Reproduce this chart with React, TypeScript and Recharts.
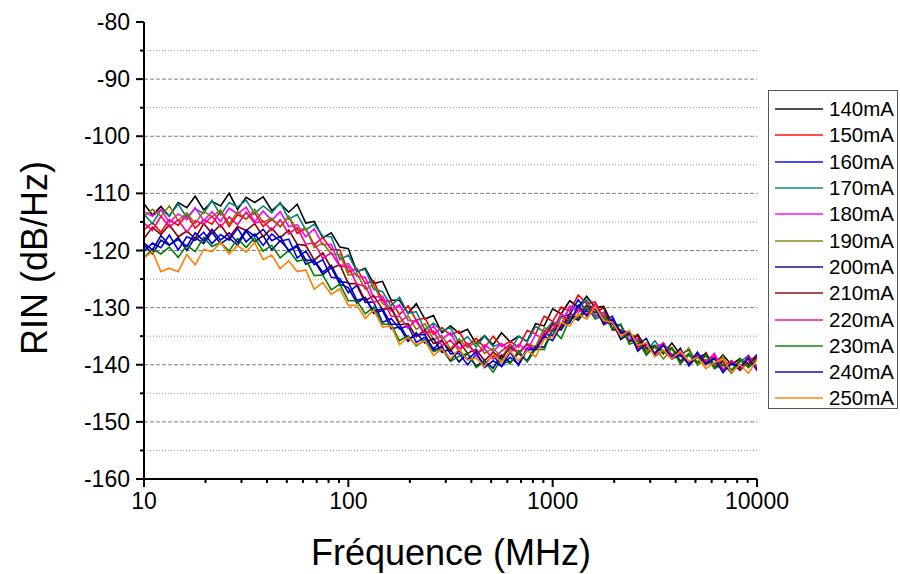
import { LineChart, Line, XAxis, YAxis, ReferenceLine, Legend } from "recharts";

// frequency grid, MHz (1/24 decade)
const freq = [
  10, 11, 12.1, 13.3, 14.7, 16.2, 17.8, 19.6, 21.5, 23.7,
  26.1, 28.7, 31.6, 34.8, 38.3, 42.2, 46.4, 51.1, 56.2, 61.9,
  68.1, 75, 82.5, 90.9, 100, 110, 121, 133, 147, 162,
  178, 196, 215, 237, 261, 287, 316, 348, 383, 422,
  464, 511, 562, 619, 681, 750, 825, 909, 1000, 1101,
  1212, 1334, 1468, 1616, 1778, 1957, 2154, 2371, 2610, 2873,
  3162, 3481, 3831, 4217, 4642, 5109, 5623, 6190, 6813, 7499,
  8254, 9085, 10000,
];

const rin140 = [
  -111.8, -113.8, -112.3, -114.0, -111.6, -112.5, -110.5, -112.9, -111.4, -112.2,
  -110.0, -112.8, -110.7, -111.6, -110.6, -113.0, -111.8, -113.3, -111.9, -115.2,
  -114.9, -117.8, -116.9, -119.4, -119.7, -123.7, -123.1, -125.8, -125.4, -128.7,
  -128.7, -131.0, -129.3, -132.0, -131.4, -134.4, -133.2, -134.5, -133.8, -136.3,
  -134.9, -136.5, -134.4, -136.0, -135.0, -135.9, -132.8, -133.2, -130.2, -131.1,
  -128.8, -129.9, -128.0, -130.0, -129.8, -132.9, -133.1, -135.8, -134.7, -137.2,
  -136.6, -138.1, -136.2, -138.2, -137.4, -139.7, -138.4, -139.9, -138.3, -140.0,
  -138.9, -140.4, -138.9,
];
const rin150 = [
  -116.4, -115.1, -116.8, -114.6, -115.6, -113.7, -116.1, -114.6, -115.4, -113.1,
  -115.8, -113.7, -114.5, -113.4, -115.8, -114.5, -115.8, -114.1, -117.0, -116.2,
  -119.0, -117.7, -119.8, -119.9, -123.8, -123.1, -125.8, -125.3, -128.8, -128.9,
  -131.2, -129.7, -132.2, -131.8, -134.7, -133.5, -134.8, -134.1, -136.7, -135.4,
  -137.0, -135.0, -136.8, -135.9, -136.9, -134.0, -134.6, -131.5, -132.4, -129.9,
  -130.6, -127.8, -129.3, -129.0, -132.0, -132.2, -135.1, -134.2, -136.9, -136.5,
  -138.2, -136.2, -138.3, -137.5, -139.7, -138.5, -140.0, -138.5, -140.2, -139.3,
  -141.0, -139.4, -138.4,
];
const rin160 = [
  -120.1, -118.7, -119.5, -117.3, -119.9, -117.6, -118.2, -116.8, -118.8, -117.2,
  -118.2, -116.1, -118.5, -117.1, -119.1, -117.1, -118.4, -118.0, -121.3, -120.1,
  -122.5, -121.6, -124.7, -124.9, -127.4, -126.1, -129.1, -129.0, -132.6, -131.9,
  -133.7, -133.2, -136.1, -135.2, -137.2, -135.7, -138.1, -138.0, -140.0, -138.2,
  -140.0, -138.3, -140.3, -138.7, -139.9, -137.0, -137.1, -134.6, -134.9, -131.6,
  -131.2, -128.6, -130.7, -130.1, -132.5, -131.5, -134.5, -134.5, -137.3, -136.4,
  -138.1, -136.6, -138.5, -137.7, -139.7, -138.7, -138.1, -140.5, -139.4, -141.4,
  -139.2, -140.1, -138.2,
];
const rin170 = [
  -113.6, -115.3, -112.9, -113.9, -111.9, -114.2, -112.7, -113.5, -111.2, -113.8,
  -111.6, -112.4, -111.2, -113.5, -112.2, -113.4, -111.6, -114.5, -113.7, -116.4,
  -115.4, -117.5, -117.6, -121.6, -120.8, -123.6, -123.3, -126.8, -127.2, -129.7,
  -128.2, -131.0, -130.7, -133.9, -132.7, -134.1, -133.5, -136.2, -135.1, -136.9,
  -135.0, -136.8, -136.3, -137.6, -135.0, -136.0, -133.3, -134.2, -132.5, -133.0,
  -129.8, -130.2, -128.6, -131.4, -130.8, -133.7, -133.0, -135.9, -135.7, -137.6,
  -135.8, -137.8, -137.1, -139.3, -138.0, -139.6, -138.1, -139.9, -139.0, -140.9,
  -139.5, -138.4, -140.4,
];
const rin180 = [
  -113.2, -114.0, -112.8, -115.1, -113.6, -114.6, -112.5, -114.8, -113.2, -114.9,
  -112.6, -113.6, -112.4, -115.0, -113.1, -114.7, -113.2, -115.8, -115.5, -117.6,
  -116.2, -119.0, -118.9, -122.7, -122.3, -124.5, -124.7, -128.2, -128.0, -130.6,
  -129.5, -132.2, -132.4, -134.8, -133.2, -135.5, -134.4, -137.1, -136.3, -138.4,
  -136.5, -137.6, -136.3, -137.9, -136.4, -137.5, -134.7, -135.5, -133.1, -133.1,
  -129.7, -130.8, -129.6, -131.7, -131.0, -133.5, -133.0, -135.6, -135.4, -137.8,
  -136.9, -136.3, -138.8, -137.8, -139.9, -138.1, -139.5, -138.0, -140.8, -139.7,
  -140.7, -138.4, -141.1,
];
const rin190 = [
  -114.0, -112.8, -114.0, -112.2, -114.8, -113.4, -115.3, -113.1, -114.1, -112.9,
  -115.3, -113.2, -114.5, -112.8, -115.1, -114.3, -115.9, -114.0, -116.5, -116.1,
  -119.5, -118.7, -120.6, -120.7, -124.3, -124.0, -126.8, -126.0, -129.3, -130.0,
  -132.6, -131.4, -133.8, -132.8, -135.6, -134.9, -137.2, -135.5, -137.0, -136.0,
  -138.0, -137.1, -138.7, -136.5, -137.9, -136.3, -136.8, -133.5, -134.0, -131.7,
  -132.5, -130.2, -131.3, -129.6, -132.0, -132.2, -135.2, -134.9, -134.9, -137.7,
  -136.9, -139.0, -137.2, -138.6, -137.1, -140.1, -139.1, -140.4, -138.5, -141.5,
  -139.4, -140.0, -138.7,
];
const rin200 = [
  -119.0, -120.6, -118.2, -119.1, -117.7, -120.0, -117.7, -118.8, -116.8, -118.8,
  -117.8, -119.1, -116.6, -118.5, -117.4, -119.9, -118.3, -119.9, -119.4, -122.4,
  -121.8, -124.2, -123.0, -125.9, -126.5, -129.2, -128.2, -131.0, -130.5, -133.7,
  -133.4, -135.9, -134.4, -136.2, -135.4, -137.8, -137.3, -139.5, -138.0, -140.2,
  -139.3, -140.6, -138.3, -139.6, -138.0, -139.3, -136.8, -136.9, -133.8, -133.9,
  -131.5, -132.2, -130.3, -129.5, -132.5, -132.5, -135.6, -134.5, -136.5, -135.4,
  -138.5, -137.5, -138.9, -137.1, -140.2, -138.5, -139.6, -138.7, -141.1, -139.8,
  -140.8, -138.5, -140.8,
];
const rin210 = [
  -117.9, -115.9, -117.2, -115.5, -117.6, -116.6, -117.9, -115.3, -117.0, -115.5,
  -117.7, -115.8, -116.5, -115.3, -117.6, -116.1, -117.8, -116.4, -118.9, -119.1,
  -121.7, -120.4, -123.1, -122.5, -125.8, -125.8, -128.8, -127.9, -130.3, -130.1,
  -133.0, -132.8, -135.1, -133.9, -136.3, -135.8, -137.6, -135.9, -138.0, -137.3,
  -139.3, -137.8, -139.0, -136.9, -138.0, -136.4, -137.4, -135.0, -132.8, -133.6,
  -131.0, -131.9, -129.5, -130.9, -130.0, -133.9, -133.9, -136.0, -134.8, -138.3,
  -136.7, -137.8, -137.0, -139.5, -138.3, -139.7, -137.9, -140.6, -139.3, -141.3,
  -139.1, -139.9, -138.6,
];
const rin220 = [
  -115.2, -116.5, -114.0, -115.9, -114.6, -116.8, -114.8, -115.4, -114.0, -115.9,
  -114.1, -115.5, -113.3, -115.2, -114.8, -116.5, -114.6, -117.1, -116.0, -118.9,
  -118.7, -121.4, -120.4, -122.8, -122.8, -125.9, -126.2, -129.1, -128.5, -131.5,
  -131.5, -133.6, -132.1, -134.6, -134.1, -136.7, -135.7, -137.5, -136.2, -138.1,
  -137.2, -139.0, -137.6, -136.4, -138.1, -136.3, -137.4, -134.2, -134.0, -131.0,
  -132.4, -130.3, -131.1, -129.3, -133.0, -132.2, -134.3, -134.2, -137.3, -136.5,
  -138.0, -136.2, -139.0, -137.8, -139.9, -138.1, -139.4, -138.5, -141.2, -139.3,
  -140.6, -138.6, -140.6,
];
const rin230 = [
  -121.3, -119.7, -120.6, -119.4, -121.2, -119.1, -120.2, -117.7, -119.3, -118.6,
  -120.1, -117.9, -119.5, -117.8, -120.1, -119.1, -121.3, -120.0, -121.9, -121.5,
  -124.4, -124.3, -126.9, -125.9, -128.8, -128.8, -131.1, -129.9, -132.9, -132.9,
  -135.8, -134.9, -136.7, -135.6, -137.7, -137.2, -139.4, -138.5, -138.0, -140.5,
  -139.4, -141.3, -139.0, -139.8, -137.5, -139.5, -137.3, -137.3, -133.9, -135.4,
  -131.9, -131.7, -129.8, -132.0, -131.4, -133.7, -132.9, -136.4, -135.8, -138.3,
  -136.6, -137.9, -137.1, -139.9, -138.1, -139.8, -138.3, -140.7, -139.9, -141.4,
  -138.9, -140.5, -139.1,
];
const rin240 = [
  -118.7, -119.9, -117.4, -119.0, -118.1, -119.3, -116.9, -118.3, -116.3, -118.2,
  -116.9, -118.6, -116.4, -117.5, -116.3, -118.3, -117.5, -120.2, -119.0, -121.7,
  -121.7, -123.8, -122.6, -125.5, -125.6, -128.7, -128.3, -130.7, -130.2, -132.9,
  -132.9, -135.5, -134.8, -134.7, -137.4, -136.8, -139.2, -137.5, -139.1, -137.7,
  -140.5, -139.3, -140.3, -137.8, -140.1, -137.4, -137.3, -135.0, -135.8, -133.0,
  -132.7, -129.6, -131.5, -130.2, -132.9, -132.0, -134.3, -134.2, -137.6, -136.2,
  -138.0, -136.5, -139.0, -138.3, -139.9, -137.8, -139.9, -138.9, -141.4, -139.7,
  -140.4, -138.9, -140.9,
];
const rin250 = [
  -121.3, -120.2, -123.7, -123.1, -123.7, -120.7, -122.5, -119.8, -120.2, -118.6,
  -120.6, -119.1, -120.3, -118.6, -121.6, -120.8, -123.2, -121.8, -123.7, -123.4,
  -126.8, -125.6, -127.7, -126.7, -129.6, -129.6, -131.9, -130.4, -133.4, -133.2,
  -136.5, -135.2, -136.5, -135.8, -138.4, -137.2, -139.0, -137.2, -139.2, -138.8,
  -140.3, -138.1, -139.6, -137.6, -139.3, -137.5, -138.6, -135.5, -135.2, -132.6,
  -133.2, -131.1, -132.0, -129.8, -132.3, -132.5, -135.0, -134.0, -136.6, -136.2,
  -138.6, -137.4, -139.0, -137.6, -139.4, -138.7, -140.7, -139.6, -139.0, -141.3,
  -140.0, -141.5, -139.1,
];

const seriesNames = [
  "140mA", "150mA", "160mA", "170mA", "180mA", "190mA",
  "200mA", "210mA", "220mA", "230mA", "240mA", "250mA",
];
const seriesColors = [
  "#000000", "#ff0000", "#0000ff", "#008080", "#ff00ff", "#808000",
  "#000080", "#800000", "#ff0080", "#008000", "#0000c0", "#ff8000",
];
const seriesValues = [
  rin140, rin150, rin160, rin170, rin180, rin190,
  rin200, rin210, rin220, rin230, rin240, rin250,
];

const xTicks = [
  10, 20, 30, 40, 50, 60, 70, 80, 90,
  100, 200, 300, 400, 500, 600, 700, 800, 900,
  1000, 2000, 3000, 4000, 5000, 6000, 7000, 8000, 9000, 10000,
];
const xMajor = [10, 100, 1000, 10000];
const yTicks = [
  -160, -155, -150, -145, -140, -135, -130, -125, -120,
  -115, -110, -105, -100, -95, -90, -85, -80,
];
const yMajor = [-160, -150, -140, -130, -120, -110, -100, -90, -80];
const gridMajor = [-150, -140, -130, -120, -110, -100, -90];
const gridMinor = [-155, -145, -135, -125, -115, -105, -95, -85];

const font = "'Liberation Sans', Arial, sans-serif";

const rows = freq.map((f, i) => {
  const row: any = { f };
  seriesNames.forEach((name, s) => {
    row[name] = seriesValues[s][i];
  });
  return row;
});

function XTick(props: any) {
  const { x, y, payload } = props;
  const major = xMajor.includes(payload.value);
  const axisY = y - 12;
  return (
    <g>
      <line x1={x} x2={x} y1={axisY} y2={axisY + (major ? 8 : 4)} stroke="#000" strokeWidth={2} />
      {major && (
        <text x={x} y={axisY + 22} textAnchor="middle" dominantBaseline="central" fontSize={23} fontFamily={font} fill="#000">
          {payload.value}
        </text>
      )}
    </g>
  );
}

function YTick(props: any) {
  const { x, y, payload } = props;
  const major = yMajor.includes(payload.value);
  const axisX = x + 12;
  return (
    <g>
      <line x1={axisX - (major ? 8 : 4)} x2={axisX} y1={y} y2={y} stroke="#000" strokeWidth={2} />
      {major && (
        <text x={axisX - 14} y={y} textAnchor="end" dominantBaseline="central" fontSize={23} fontFamily={font} fill="#000">
          {payload.value}
        </text>
      )}
    </g>
  );
}

function LegendBox(props: any) {
  const items = props.payload || [];
  return (
    <div
      style={{
        width: 130,
        height: 319,
        border: "1px solid #555",
        boxSizing: "border-box",
        paddingTop: 5,
        background: "#fff",
      }}
    >
      {items.map((item: any) => (
        <div key={item.value} style={{ display: "flex", alignItems: "center", height: 26.3 }}>
          <div style={{ width: 48, height: 2, background: item.color, opacity: 0.7, marginLeft: 6 }} />
          <span style={{ marginLeft: 6, fontSize: 20.5, fontFamily: font, color: "#000", lineHeight: "22px" }}>
            {item.value}
          </span>
        </div>
      ))}
    </div>
  );
}

export default function App() {
  return (
    <div style={{ position: "absolute", left: 0, top: 0, width: 900, height: 574, background: "#fff" }}>
      <LineChart width={900} height={574} data={rows} margin={{ top: 22, right: 13, bottom: 0, left: 0 }}>
        <XAxis
          dataKey="f"
          type="number"
          scale="log"
          domain={[10, 10000]}
          ticks={xTicks}
          interval={0}
          allowDataOverflow
          height={95}
          tickSize={8}
          tickMargin={4}
          tickLine={false}
          tick={<XTick />}
          axisLine={{ stroke: "#000", strokeWidth: 2 }}
          label={{
            content: () => (
              <text x={451} y={552} textAnchor="middle" dominantBaseline="central" fontSize={36} fontFamily={font} fill="#000">
                Fréquence (MHz)
              </text>
            ),
          }}
        />
        <YAxis
          type="number"
          domain={[-160, -80]}
          ticks={yTicks}
          interval={0}
          allowDataOverflow
          width={144}
          tickSize={8}
          tickMargin={4}
          tickLine={false}
          tick={<YTick />}
          axisLine={{ stroke: "#000", strokeWidth: 2 }}
          label={{
            content: () => (
              <text
                x={34}
                y={258}
                transform="rotate(-90 34 258)"
                textAnchor="middle"
                dominantBaseline="central"
                fontSize={36}
                fontFamily={font}
                fill="#000"
              >
                RIN (dB/Hz)
              </text>
            ),
          }}
        />
        {gridMinor.map((v) => (
          <ReferenceLine key={"mn" + v} y={v} stroke="#9a9a9a" strokeDasharray="1 2" strokeWidth={1} />
        ))}
        {gridMajor.map((v) => (
          <ReferenceLine key={"mj" + v} y={v} stroke="#808080" strokeDasharray="4 2" strokeWidth={1} />
        ))}
        <Legend
          layout="vertical"
          align="right"
          verticalAlign="top"
          width={130}
          content={<LegendBox />}
          wrapperStyle={{ top: 90, right: 2 }}
        />
        {seriesNames.map((name, s) => (
          <Line
            key={name}
            type="linear"
            dataKey={name}
            name={name}
            stroke={seriesColors[s]}
            strokeWidth={1.6}
            dot={false}
            isAnimationActive={false}
          />
        ))}
      </LineChart>
    </div>
  );
}
